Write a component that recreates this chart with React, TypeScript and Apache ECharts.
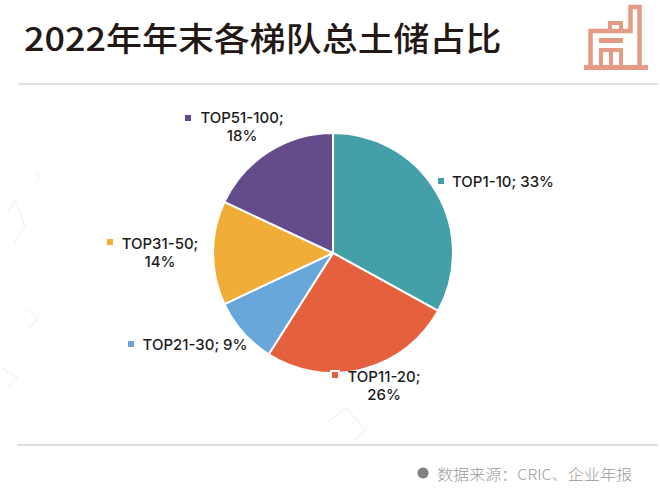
import React, { useEffect, useRef } from "react";
import * as echarts from "echarts";

const categories = ["TOP1-10", "TOP11-20", "TOP21-30", "TOP31-50", "TOP51-100"];
const shares = [33, 26, 9, 14, 18];
const colors = ["#43A0A8", "#E5603D", "#68A7DA", "#F0AE38", "#644B8C"];
const labelTexts = ["TOP1-10; 33%", "TOP11-20;\n26%", "TOP21-30; 9%", "TOP31-50;\n14%", "TOP51-100;\n18%"];
const labelCenters = [[503, 181], [384, 385], [195, 344], [160, 252], [242, 126]];
const markerCenters = [[441, 181], [335, 375], [131, 344], [110, 242], [188, 118]];

const titleText = "2022年年末各梯队总土储占比";
const sourceText = "数据来源：CRIC、企业年报";
const iconColor = "#E59A84";
const font = "Inter, sans-serif";
const cjk = "'Noto Sans CJK SC', sans-serif";

const watermarks = [
  [[8, 212], [15, 200], [25, 226], [14, 244]],
  [[35, 172], [40, 177], [36, 183]],
  [[28, 310], [38, 318], [30, 328]],
  [[2, 368], [17, 378], [8, 387]],
  [[328, 422], [346, 408], [366, 430], [354, 440]],
];

export default function App() {
  const ref = useRef<HTMLDivElement>(null);
  useEffect(() => {
    const chart = echarts.init(ref.current!, undefined, { renderer: "svg" });
    const graphic: any[] = [
      { type: "line", shape: { x1: 18, y1: 84, x2: 658, y2: 84 }, style: { stroke: "#c4c4c4", lineWidth: 1 } },
      { type: "line", shape: { x1: 17, y1: 445, x2: 658, y2: 445 }, style: { stroke: "#bdbdbd", lineWidth: 1 } },
      { type: "text", x: 24, y: 37, scaleX: 1.09, style: { text: titleText, font: `500 33px ${cjk}`, fill: "#231815", textVerticalAlign: "middle" } },
      { type: "circle", shape: { cx: 423, cy: 473, r: 5.5 }, style: { fill: "#808080" } },
      { type: "text", x: 437, y: 473, scaleX: 1.11, style: { text: sourceText, font: `300 14.5px ${cjk}`, fill: "#9a9a9a", textVerticalAlign: "middle" } },
      // factory icon
      { type: "rect", shape: { x: 584, y: 65, width: 64, height: 5 }, style: { fill: iconColor } },
      { type: "polyline", shape: { points: [[590.5, 67], [590.5, 31], [630.5, 31], [630.5, 7], [639.5, 7], [639.5, 67]] }, style: { stroke: iconColor, fill: "none", lineWidth: 4.5 } },
      { type: "polyline", shape: { points: [[610, 30], [610, 23], [621, 23], [621, 30]] }, style: { stroke: iconColor, fill: "none", lineWidth: 4 } },
      { type: "rect", shape: { x: 599, y: 38, width: 24, height: 5 }, style: { fill: iconColor } },
      { type: "polyline", shape: { points: [[601, 67], [601, 50], [621, 50], [621, 67]] }, style: { stroke: iconColor, fill: "none", lineWidth: 4 } },
      { type: "polyline", shape: { points: [[611, 67], [611, 52]] }, style: { stroke: iconColor, fill: "none", lineWidth: 4 } },
    ];
    watermarks.forEach((points) => {
      graphic.push({ type: "polyline", silent: true, shape: { points }, style: { stroke: "#f6f6f6", fill: "none", lineWidth: 2 } });
    });
    markerCenters.forEach(([x, y], i) => {
      if (i === 1) {
        graphic.push({ type: "rect", z: 100, shape: { x: x - 5, y: y - 5, width: 10, height: 10 }, style: { fill: "#fff" } });
      }
      graphic.push({
        type: "rect", z: 101, shape: { x: x - 3, y: y - 3, width: 6, height: 6 },
        style: { fill: colors[i] },
      });
    });
    chart.setOption({
      animation: false,
      backgroundColor: "#fff",
      graphic,
      series: [
        {
          type: "pie",
          center: [333, 253],
          radius: [0, 120],
          startAngle: 90,
          clockwise: true,
          itemStyle: { borderColor: "#fff", borderWidth: 2 },
          emphasis: { disabled: true },
          data: categories.map((name, i) => ({
            name,
            value: shares[i],
            itemStyle: { color: colors[i] },
          })),
          label: {
            show: true,
            position: "outside",
            formatter: (p: any) => labelTexts[p.dataIndex],
            fontFamily: font,
            fontWeight: 500,
            fontSize: 15,
            lineHeight: 18,
            color: "#1c1c1c",
            align: "center",
          },
          labelLine: { show: false },
          labelLayout: (p: any) => ({
            x: labelCenters[p.dataIndex][0],
            y: labelCenters[p.dataIndex][1],
            align: "center",
            verticalAlign: "middle",
          }),
        },
      ],
    });
    return () => chart.dispose();
  }, []);
  return <div ref={ref} style={{ position: "absolute", left: 0, top: 0, width: 660, height: 493 }} />;
}
